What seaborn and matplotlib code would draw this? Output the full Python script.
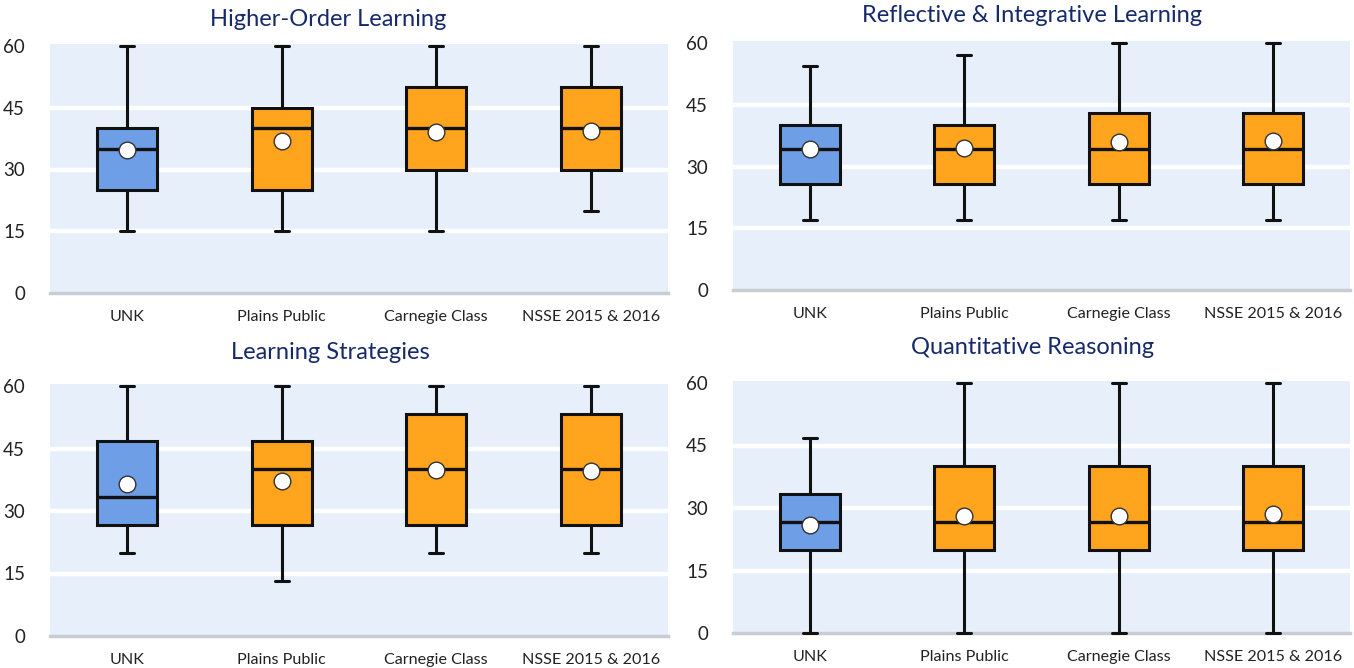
import numpy as np
import pandas as pd
import matplotlib
matplotlib.use("Agg")
import matplotlib.pyplot as plt
import seaborn as sns

categories = ["UNK", "Plains Public", "Carnegie Class", "NSSE 2015 & 2016"]
yticks = [0, 15, 30, 45, 60]

# Higher-Order Learning
hol_low = [15, 15, 15, 20]
hol_q1 = [25, 25, 30, 30]
hol_med = [35, 40, 40, 40]
hol_q3 = [40, 45, 50, 50]
hol_high = [60, 60, 60, 60]
hol_mean = [34.8, 37.0, 39.0, 39.4]

# Reflective & Integrative Learning
ril_low = [17.1, 17.1, 17.1, 17.1]
ril_q1 = [25.7, 25.7, 25.7, 25.7]
ril_med = [34.3, 34.3, 34.3, 34.3]
ril_q3 = [40.0, 40.0, 42.9, 42.9]
ril_high = [54.3, 57.1, 60.0, 60.0]
ril_mean = [34.3, 34.4, 36.0, 36.2]

# Learning Strategies
ls_low = [20.0, 13.3, 20.0, 20.0]
ls_q1 = [26.7, 26.7, 26.7, 26.7]
ls_med = [33.3, 40.0, 40.0, 40.0]
ls_q3 = [46.7, 46.7, 53.3, 53.3]
ls_high = [60.0, 60.0, 60.0, 60.0]
ls_mean = [36.6, 37.3, 39.8, 39.6]

# Quantitative Reasoning
qr_low = [0, 0, 0, 0]
qr_q1 = [20.0, 20.0, 20.0, 20.0]
qr_med = [26.7, 26.7, 26.7, 26.7]
qr_q3 = [33.3, 40.0, 40.0, 40.0]
qr_high = [46.7, 60.0, 60.0, 60.0]
qr_mean = [26.0, 28.0, 28.0, 28.6]

panels = [
    ("Higher-Order Learning", hol_low, hol_q1, hol_med, hol_q3, hol_high, hol_mean),
    ("Reflective & Integrative Learning", ril_low, ril_q1, ril_med, ril_q3, ril_high, ril_mean),
    ("Learning Strategies", ls_low, ls_q1, ls_med, ls_q3, ls_high, ls_mean),
    ("Quantitative Reasoning", qr_low, qr_q1, qr_med, qr_q3, qr_high, qr_mean),
]

BLUE = "#6E9FE6"
ORANGE = "#FFA41C"
BG = "#E6EFFA"
NAVY = "#15296B"
palette = {c: (BLUE if c == "UNK" else ORANGE) for c in categories}

sns.set_theme(style="white")
plt.rcParams["font.family"] = ["Lato", "DejaVu Sans"]

W, H = 1354, 668
fig = plt.figure(figsize=(W / 100, H / 100), dpi=100)

# axes rectangles in pixels: (left, right, y of 0, y of 60)
rects = [
    (50, 668, 293, 46),
    (733, 1350, 290, 43),
    (50, 668, 636, 386),
    (733, 1350, 633, 383),
]
title_pos = [(328, 19), (1032, 16), (330, 352), (1033, 348)]

ytop = 60.6
for (title, lo, q1, med, q3, hi, mean), (l, r, y0, y60), (tx, ty) in zip(panels, rects, title_pos):
    ppu = (y0 - y60) / 60.0
    height = ytop * ppu
    ax = fig.add_axes([l / W, (H - y0) / H, (r - l) / W, height / H])
    ax.set_facecolor(BG)

    rows = []
    for i, c in enumerate(categories):
        for v in (lo[i], q1[i], med[i], q3[i], hi[i]):
            rows.append({"group": c, "score": v})
    df = pd.DataFrame(rows)
    mdf = pd.DataFrame({"group": categories, "score": mean})

    sns.boxplot(data=df, x="group", y="score", hue="group", order=categories,
                palette=palette, saturation=1, width=0.39, whis=(0, 100),
                linecolor="#111111", linewidth=2.2, legend=False, ax=ax,
                capwidths=0.09, showfliers=False,
                medianprops=dict(color="#111111", linewidth=2.4),
                zorder=3)
    sns.stripplot(data=mdf, x="group", y="score", order=categories, jitter=False,
                  color="white", size=12, edgecolor="#333333", linewidth=1.0,
                  ax=ax, zorder=5)
    for ln in ax.lines:
        ln.set_clip_on(False)

    ax.set_ylim(0, ytop)
    ax.set_xlim(-0.5, 3.5)
    ax.set_yticks(yticks)
    ax.set_yticklabels([str(t) for t in yticks])
    ax.yaxis.grid(True, color="white", linewidth=3.2)
    gl = ax.yaxis.get_gridlines()
    gl[-1].set_visible(False)
    gl[0].set_visible(False)
    ax.set_axisbelow(True)
    ax.set_xlabel("")
    ax.set_ylabel("")
    for s in ("top", "right", "left"):
        ax.spines[s].set_visible(False)
    ax.spines["bottom"].set_color("#C9CDD3")
    ax.spines["bottom"].set_linewidth(2.5)
    ax.tick_params(axis="y", length=0, pad=18, labelsize=13.5, labelcolor="#222222")
    ax.tick_params(axis="x", length=0, pad=12, labelsize=11.6, labelcolor="#222222")

    fig.text(tx / W, 1 - ty / H, title, ha="center", va="center",
             fontsize=17, color=NAVY, fontweight="normal")

fig.savefig("out.png", dpi=100, facecolor="white")
